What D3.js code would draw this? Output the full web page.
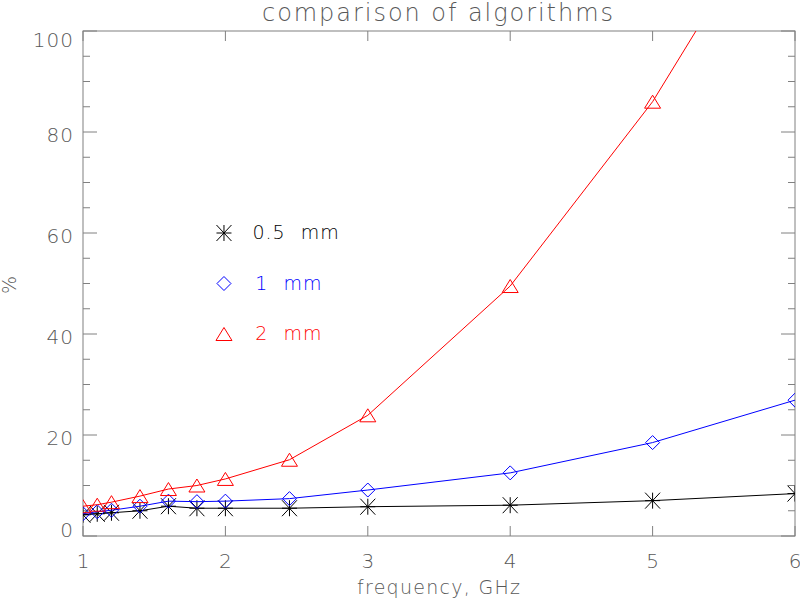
<!DOCTYPE html>
<html>
<head>
<meta charset="utf-8">
<script src="https://cdn.jsdelivr.net/npm/d3@7"></script>
<style>
body { margin: 0; background: #fff; }
svg { display: block; font-family: "DejaVu Sans", sans-serif; font-weight: 200; }
</style>
</head>
<body>
<div id="vis"></div>
<script>
// data
var freq = [1, 1.1, 1.2, 1.4, 1.6, 1.8, 2, 2.45, 3, 4, 5, 6];
var mm05 = [4.2, 4.4, 4.6, 5.0, 5.9, 5.5, 5.5, 5.5, 5.8, 6.1, 7.0, 8.4];
var mm1  = [4.4, 4.8, 5.1, 5.9, 6.9, 6.8, 6.9, 7.4, 9.1, 12.5, 18.5, 26.9];
var mm2  = [5.9, 6.2, 6.7, 7.9, 9.3, 10.0, 11.3, 15.1, 23.9, 49.5, 86.0, 132];

var seriesNames = ["0.5 mm", "1 mm", "2 mm"];
var seriesColors = ["#000", "#00f", "#f00"];
var seriesSyms = ["asterisk", "diamond", "triangle"];
var legendY = [60, 50, 40];

var xTicks = [1, 2, 3, 4, 5, 6];
var yTicks = [0, 20, 40, 60, 80, 100];
var yMinor = d3.range(0, 101, 5);

// note: "top" is window.top, so use plot* names
var width = 800,
	height = 601,
	plotL = 83, plotR = 795, plotT = 31, plotB = 536;

var axisColor = "#808080",
	textColor = "#585858";

var x = d3.scaleLinear().domain([1, 6]).range([plotL, plotR]),
	y = d3.scaleLinear().domain([0, 100]).range([plotB, plotT]);

var svg = d3.select('#vis')
	.append('svg')
	.attr('width', width)
	.attr('height', height);

svg.append('clipPath').attr('id', 'plotclip')
	.append('rect')
	.attr('x', plotL).attr('y', plotT)
	.attr('width', plotR - plotL).attr('height', plotB - plotT);

// frame
svg.append('rect')
	.attr('x', plotL).attr('y', plotT)
	.attr('width', plotR - plotL).attr('height', plotB - plotT)
	.attr('fill', 'none')
	.attr('stroke', axisColor)
	.attr('stroke-width', 1);

var ticks = svg.append('g').attr('stroke', axisColor).attr('stroke-width', 1);

// x ticks, bottom + top
xTicks.forEach(function(t) {
	ticks.append('line').attr('x1', x(t)).attr('x2', x(t)).attr('y1', plotB).attr('y2', plotB - 10);
	ticks.append('line').attr('x1', x(t)).attr('x2', x(t)).attr('y1', plotT).attr('y2', plotT + 10);
});

// y ticks, left + right
yMinor.forEach(function(t) {
	var len = (t % 20 == 0) ? 14 : 7;
	ticks.append('line').attr('x1', plotL).attr('x2', plotL + len).attr('y1', y(t)).attr('y2', y(t));
	ticks.append('line').attr('x1', plotR).attr('x2', plotR - len).attr('y1', y(t)).attr('y2', y(t));
});

svg.selectAll('text.xlab')
	.data(xTicks)
	.enter()
	.append('text')
	.attr('class', 'xlab')
	.attr('x', function(d) { return x(d); })
	.attr('y', 568)
	.attr('text-anchor', 'middle')
	.attr('font-size', 20)
	.attr('fill', textColor)
	.text(function(d) { return d; });

svg.selectAll('text.ylab')
	.data(yTicks)
	.enter()
	.append('text')
	.attr('class', 'ylab')
	.attr('x', 74)
	.attr('y', function(d) { return Math.min(Math.max(y(d) + 10, plotT + 16), plotB + 1); })
	.attr('text-anchor', 'end')
	.attr('font-size', 20)
	.attr('letter-spacing', 1)
	.attr('fill', textColor)
	.text(function(d) { return d; });

// titles
svg.append('text')
	.attr('x', 262).attr('y', 21)
	.attr('font-size', 24)
	.attr('fill', textColor)
	.attr('textLength', 351)
	.attr('lengthAdjust', 'spacing')
	.text('comparison of algorithms');

svg.append('text')
	.attr('x', 357).attr('y', 594)
	.attr('font-size', 19)
	.attr('fill', textColor)
	.attr('textLength', 163)
	.attr('lengthAdjust', 'spacing')
	.text('frequency, GHz');

svg.append('text')
	.attr('transform', 'translate(16,285) rotate(-90)')
	.attr('text-anchor', 'middle')
	.attr('font-size', 19)
	.attr('fill', textColor)
	.text('%');

function drawSymbol(g, sym, cx, cy, color) {
	if (sym == "asterisk") {
		g.append('path')
			.attr('d', 'M' + (cx - 7.5) + ',' + (cy - 8) + 'L' + (cx + 7.5) + ',' + (cy + 8) +
				'M' + (cx - 7.5) + ',' + (cy + 8) + 'L' + (cx + 7.5) + ',' + (cy - 8) +
				'M' + cx + ',' + (cy - 8) + 'L' + cx + ',' + (cy + 8) +
				'M' + (cx - 7.5) + ',' + cy + 'L' + (cx + 7.5) + ',' + cy)
			.attr('stroke', color).attr('fill', 'none');
	} else if (sym == "diamond") {
		g.append('path')
			.attr('d', 'M' + (cx - 7) + ',' + cy + 'L' + cx + ',' + (cy - 7) + 'L' + (cx + 7) + ',' + cy + 'L' + cx + ',' + (cy + 7) + 'Z')
			.attr('stroke', color).attr('fill', 'none');
	} else {
		g.append('path')
			.attr('d', 'M' + (cx - 8) + ',' + (cy + 6.5) + 'L' + cx + ',' + (cy - 6.5) + 'L' + (cx + 8) + ',' + (cy + 6.5) + 'Z')
			.attr('stroke', color).attr('fill', 'none');
	}
}

var line = d3.line()
	.x(function(d) { return x(d[0]); })
	.y(function(d) { return y(d[1]); });

var plot = svg.append('g').attr('clip-path', 'url(#plotclip)');

[mm05, mm1, mm2].forEach(function(vals, i) {
	var pts = freq.map(function(f, j) { return [f, vals[j]]; });
	plot.append('path')
		.attr('d', line(pts))
		.attr('fill', 'none')
		.attr('stroke', seriesColors[i])
		.attr('stroke-width', 1);
	pts.forEach(function(p) {
		drawSymbol(plot, seriesSyms[i], x(p[0]), y(p[1]), seriesColors[i]);
	});
});

// legend placed in data coords
seriesNames.forEach(function(name, i) {
	drawSymbol(svg, seriesSyms[i], x(1.99), y(legendY[i]), seriesColors[i]);
	svg.append('text')
		.attr('x', x(i == 0 ? 2.19 : 2.21))
		.attr('y', y(legendY[i]) + 6)
		.attr('font-size', 19)
		.attr('letter-spacing', 1)
		.attr('word-spacing', 8)
		.attr('fill', seriesColors[i])
		.text(name);
});
</script>
</body>
</html>
